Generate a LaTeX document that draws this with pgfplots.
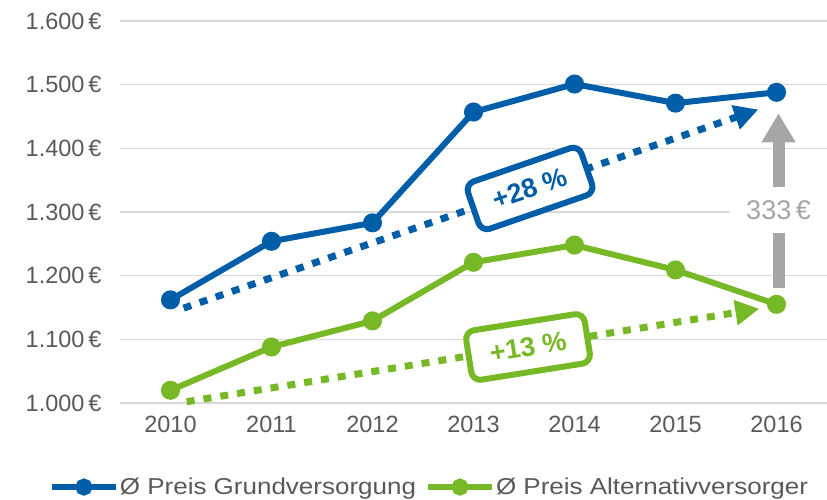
\documentclass[border=0pt]{standalone}
\usepackage{pgfplots}
\pgfplotsset{compat=1.18}
\usepackage{fontspec}
\setmainfont{Liberation Sans}
\newfontfamily\legendfont[FakeStretch=1.13]{Liberation Sans}
\usetikzlibrary{arrows.meta,calc}
\definecolor{cblue}{RGB}{0,94,168}
\definecolor{cgreen}{RGB}{119,184,38}
\definecolor{cgray}{RGB}{166,166,166}
\definecolor{ctext}{RGB}{89,89,89}
\definecolor{cgrid}{RGB}{217,217,217}
\begin{document}
\begin{tikzpicture}
\begin{axis}[name=ax, scale only axis, width=707bp, height=382bp,
  xmin=2009.5, xmax=2016.5, ymin=1000, ymax=1600,
  axis line style={draw=none}, tick style={draw=none},
  ymajorgrids, grid style={cgrid, line width=1.2bp},
  xtick={2010,2011,2012,2013,2014,2015,2016},
  xticklabels={2010,2011,2012,2013,2014,2015,2016},
  ytick={1000,1100,1200,1300,1400,1500,1600},
  yticklabels={1.000\,€,1.100\,€,1.200\,€,1.300\,€,1.400\,€,1.500\,€,1.600\,€},
  ticklabel style={font=\fontsize{23.5bp}{27bp}\selectfont, text=ctext},
  yticklabel style={xshift=-15bp},
  xticklabel style={yshift=-10bp},
  clip=false,
  legend columns=2,
  legend style={draw=none, fill=none, at={(0.437,-0.22)}, anchor=center,
    font=\legendfont\fontsize{23bp}{27bp}\selectfont, text=ctext,
    nodes={inner xsep=1bp},
    /tikz/every even column/.style={column sep=8bp}},
  legend cell align=left,
  legend image code/.code={\draw[mark repeat=2,mark phase=2,mark size=5.5bp] plot coordinates {(0bp,0bp) (32bp,0bp) (64bp,0bp)};},
]
\addplot[cblue, line width=6bp, mark=*, mark size=6.5bp] coordinates {
  (2010,1162) (2011,1254) (2012,1283) (2013,1457) (2014,1501) (2015,1471) (2016,1488)};
\addlegendentry{Ø Preis Grundversorgung}
\addplot[cgreen, line width=6bp, mark=*, mark size=6.5bp] coordinates {
  (2010,1020) (2011,1088) (2012,1129) (2013,1221) (2014,1248) (2015,1209) (2016,1155)};
\addlegendentry{Ø Preis Alternativversorger}
% trend arrows
\addplot[forget plot, cblue, line width=7bp, dash pattern=on 8bp off 9bp,
  -{Triangle[length=24bp,width=24bp]}] coordinates {(2010.13,1149) (2015.82,1461)};
\addplot[forget plot, cgreen, line width=7bp, dash pattern=on 8bp off 9bp,
  -{Triangle[length=24bp,width=24bp]}] coordinates {(2010.16,1002) (2015.83,1148)};
% difference arrow
\addplot[forget plot, cgray, line width=12bp,
  -{Triangle[length=29bp,width=32bp]}] coordinates {(2016.02,1180) (2016.02,1455)};
\node[fill=white, text=cgray, minimum width=98bp, minimum height=46bp, inner sep=0pt,
  font=\fontsize{27bp}{31bp}\selectfont] at (axis cs:2016.02,1303) {333\,€};
% boxes
\node[draw=cblue, line width=6bp, fill=white, rounded corners=9bp, rotate=19,
  minimum width=120bp, minimum height=50bp, inner xsep=4bp, text=cblue,
  font=\bfseries\fontsize{27bp}{31bp}\selectfont] at (axis cs:2013.56,1337) {+28 \%};
\node[draw=cgreen, line width=6bp, fill=white, rounded corners=9bp, rotate=9,
  minimum width=120bp, minimum height=50bp, inner xsep=4bp, text=cgreen,
  font=\bfseries\fontsize{27bp}{31bp}\selectfont] at (axis cs:2013.54,1088) {+13 \%};
\end{axis}
\pgfresetboundingbox
\path[use as bounding box] ($(ax.south west)+(-120bp,-96bp)$) rectangle ($(ax.north east)+(0bp,21bp)$);
\end{tikzpicture}
\end{document}
